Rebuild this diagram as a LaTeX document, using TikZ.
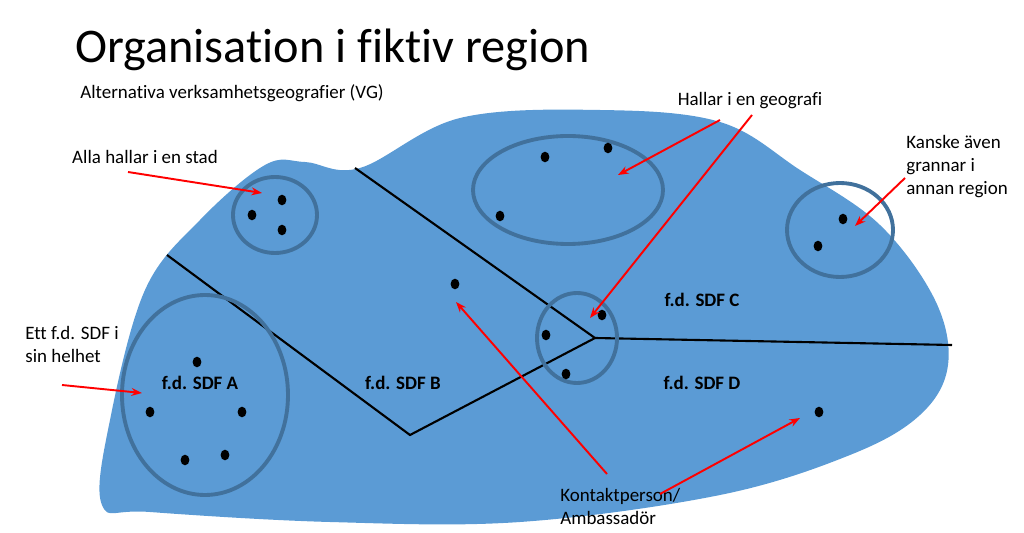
\documentclass[tikz,border=0pt]{standalone}
\usepackage{fontspec}
\setmainfont[Ligatures=NoCommon]{Carlito}
\usetikzlibrary{arrows.meta,shapes.geometric}
\definecolor{blobblue}{HTML}{5B9BD5}
\definecolor{ringblue}{HTML}{41719C}
\tikzset{
  ring/.style={draw=ringblue, line width=2.2pt},
  dot/.style={ellipse, fill=black, minimum width=5pt, minimum height=6pt, inner sep=0pt},
  pointer/.style={draw=red, line width=1.1pt, -{Stealth[length=6pt]}},
  lbl/.style={font=\fontsize{10.8}{13}\selectfont, align=left, inner sep=0pt},
  area/.style={font=\fontsize{10.8}{13}\selectfont\bfseries},
  border/.style={draw=black, line width=1.2pt}
}
\begin{document}
\begin{tikzpicture}[x=0.02cm, y=-0.02cm]
\useasboundingbox (0,0) rectangle (1024,533);
% region
\fill[blobblue] plot[smooth cycle, tension=0.6] coordinates {
  (102,505) (110,420) (145,290) (200,220) (265,165) (305,162) (360,168)
  (460,118) (600,110) (720,122) (800,170) (880,225) (935,300) (948,365)
  (920,415) (850,455) (720,495) (520,522) (330,522) (150,512)};
% borders
\coordinate (hub) at (595,338);
\coordinate (wl) at (167,255);
\coordinate (bt) at (410,435);
\coordinate (tp) at (355,168);
\coordinate (er) at (952,345);
\draw[border] (wl) -- (bt) -- (hub) -- (tp);
\draw[border] (hub) -- (er);
% rings
\draw[ring] (275,215) ellipse (42 and 38);
\draw[ring] (205,395) ellipse (83 and 100);
\draw[ring] (568,190) ellipse (95 and 54);
\draw[ring] (577,338) ellipse (40 and 45);
\draw[ring] (840,230) ellipse (53 and 47);
% dots
\foreach \p [count=\i] in {(282,200),(252,215),(282,230),(197,362),(150,412),
  (242,412),(185,460),(225,455),(545,157),(608,148),(500,216),(455,284),
  (602,315),(546,335),(566,374),(843,219),(818,246),(819,412)}
  \node[dot] (d\i) at \p {};
% titles
\node[anchor=west, inner sep=0pt, font=\fontsize{27.5}{30}\selectfont] (title) at (75,50) {Organisation i fiktiv region};
\node[anchor=west, lbl] (sub) at (80,93) {Alternativa verksamhetsgeografier (VG)};
% area labels
\node[area] (sdfa) at (200,383) {f.d. SDF A};
\node[area] (sdfb) at (403,383) {f.d. SDF B};
\node[area] (sdfc) at (702,300) {f.d. SDF C};
\node[area] (sdfd) at (702,383) {f.d. SDF D};
% callouts
\node[lbl] (stad) at (145,157) {Alla hallar i en stad};
\node[lbl] (geo) at (750,101) {Hallar i en geografi};
\node[lbl, anchor=north west] (grann) at (906,135) {Kanske även\\grannar i\\annan region};
\node[lbl, anchor=north west] (helhet) at (25,326) {Ett f.d. SDF i\\sin helhet};
\node[lbl, anchor=north west] (kontakt) at (560,488) {Kontaktperson/\\Ambassadör};
\coordinate (s1) at (128,172);
\coordinate (h1) at (62,385);
\coordinate (g1) at (720,120);
\coordinate (g2) at (752,115);
\coordinate (k1) at (607,474);
\coordinate (k2) at (660,494);
\coordinate (n1) at (905,178);
\draw[pointer] (s1) -- (262,193);
\draw[pointer] (h1) -- (142,393);
\draw[pointer] (g1) -- (618,175);
\draw[pointer] (g2) -- (590,318);
\draw[pointer] (k1) -- (456,302);
\draw[pointer] (k2) -- (800,418);
\draw[pointer] (n1) -- (855,226);
\end{tikzpicture}
\end{document}
